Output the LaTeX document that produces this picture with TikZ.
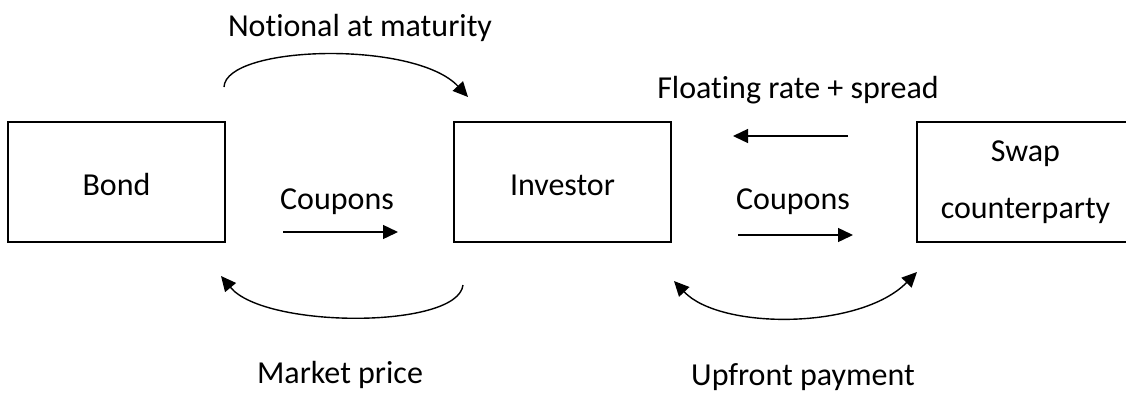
\documentclass[tikz,border=0pt]{standalone}
\usepackage{fontspec}
\setmainfont[Ligatures=NoCommon]{Carlito}
\usetikzlibrary{arrows.meta}
\begin{document}
\begin{tikzpicture}[x=0.5pt,y=-0.5pt,
  every node/.style={font=\fontsize{16}{19}\selectfont},
  boxnode/.style={draw,line width=1pt,minimum width=108.5pt,minimum height=60pt,inner sep=0pt},
  boxtext/.style={text height=13pt,text depth=0pt},
  lbl/.style={anchor=base,inner sep=0pt},
  flow/.style={line width=0.7pt,-{Triangle[length=7.5pt,width=7pt]}},
  flowboth/.style={line width=0.7pt,{Triangle[length=7.5pt,width=7pt]}-{Triangle[length=7.5pt,width=7pt]}}]
\useasboundingbox (0,0) rectangle (1126,392);
\clip (0,0) rectangle (1126,392);
% boxes
\node[boxnode,boxtext] (bond) at (116.5,182) {Bond};
\node[boxnode,boxtext] (investor) at (562.5,182) {Investor};
\node[boxnode,align=center,font=\fontsize{16}{28.5}\selectfont] (swap) at (1025.5,182) {Swap\\counterparty};
% labels
\node[lbl] (lnot) at (360,36) {Notional at maturity};
\node[lbl] (lflt) at (798,98) {Floating rate + spread};
\node[lbl] (lcpl) at (337,209) {Coupons};
\node[lbl] (lcpr) at (793,209) {Coupons};
\node[lbl] (lmkt) at (340,383) {Market price};
\node[lbl] (lupf) at (803,385) {Upfront payment};
% coordinates
\coordinate (a1) at (224,87);
\coordinate (a2) at (468,97);
\coordinate (b1) at (283,232);
\coordinate (b2) at (398,232);
\coordinate (c1) at (463,285);
\coordinate (c2) at (221,276);
\coordinate (d1) at (848,136);
\coordinate (d2) at (733,136);
\coordinate (e1) at (738,235);
\coordinate (e2) at (853,235);
\coordinate (f1) at (674,281);
\coordinate (f2) at (917,272);
% connectors
\draw[flow] (a1) .. controls (226,45) and (415,40) .. (a2);
\draw[flow] (b1) -- (b2);
\draw[flow] (c1) .. controls (458,329) and (265,329) .. (c2);
\draw[flow] (d1) -- (d2);
\draw[flow] (e1) -- (e2);
\draw[flowboth] (f1) .. controls (720,330) and (860,330) .. (f2);
\end{tikzpicture}
\end{document}
